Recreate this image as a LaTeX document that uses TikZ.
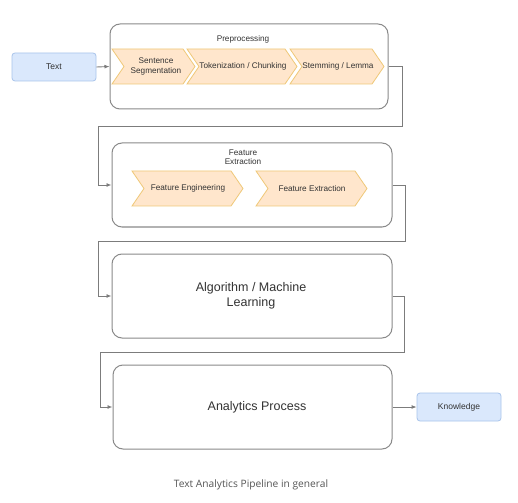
\documentclass[tikz,border=0pt]{standalone}
\usepackage{fontspec}
\setmainfont{Liberation Sans}
\newfontfamily\capfont{Open Sans}
\usetikzlibrary{arrows.meta,calc}
\definecolor{boxgray}{HTML}{8A8A8A}
\definecolor{chevfill}{HTML}{FFE6CC}
\definecolor{chevdraw}{HTML}{EFC878}
\definecolor{bluefill}{HTML}{DAE8FC}
\definecolor{bluedraw}{HTML}{A9C4EB}
\definecolor{txtgray}{HTML}{333333}
\definecolor{capgray}{HTML}{555555}
\tikzset{
  container/.style={draw=boxgray,line width=1pt,rounded corners=10pt,fill=white},
  endbox/.style={draw=bluedraw,line width=0.8pt,fill=bluefill,rounded corners=3pt,
    minimum width=84pt,minimum height=28pt,inner sep=0pt,font=\fontsize{8.5}{9.5}\selectfont,text=txtgray},
  chev/.style={draw=chevdraw,line width=0.8pt,fill=chevfill},
  chevtext/.style={font=\fontsize{8.2}{9.2}\selectfont,text=txtgray,align=center,inner sep=0pt},
  smalltitle/.style={font=\fontsize{8.2}{9.2}\selectfont,text=txtgray,align=center,inner sep=0pt},
  bigtext/.style={font=\fontsize{12.5}{15}\selectfont,text=txtgray,align=center,inner sep=0pt},
  conn/.style={draw=boxgray!90!black,line width=0.9pt,-{Latex[length=5pt,width=4pt]}},
}
\begin{document}
\begin{tikzpicture}[x=1pt,y=-1pt]
\useasboundingbox (0,0) rectangle (518,502);
\fill[white] (0,0) rectangle (518,502);
% containers
\node[container,minimum width=278pt,minimum height=85pt] (pre) at (249,66.5) {};
\node[container,minimum width=280pt,minimum height=84pt] (fe) at (252,185) {};
\node[container,minimum width=280pt,minimum height=84pt] (alg) at (252,296) {};
\node[container,minimum width=279pt,minimum height=84pt] (ana) at (252.5,407) {};
% end boxes
\node[endbox] (text) at (54,67) {Text};
\node[endbox] (know) at (459,407) {Knowledge};
% titles
\node[smalltitle] (pretitle) at (243,39) {Preprocessing};
\node[smalltitle] (fetitle) at (243,157.5) {Feature\\Extraction};
\node[bigtext] (algtext) at (251,296) {Algorithm / Machine\\Learning};
\node[bigtext] (anatext) at (257,407) {Analytics Process};
% chevrons (preprocessing)
\path[chev] (112,49) -- (183,49) -- (195,66.5) -- (183,84) -- (112,84) -- (124,66.5) -- cycle;
\path[chev] (187,49) -- (285,49) -- (297,66.5) -- (285,84) -- (187,84) -- (199,66.5) -- cycle;
\path[chev] (290,49) -- (372,49) -- (384,66.5) -- (372,84) -- (290,84) -- (302,66.5) -- cycle;
\node[chevtext] (c1) at (156,66.5) {Sentence\\Segmentation};
\node[chevtext] (c2) at (243,66.5) {Tokenization / Chunking};
\node[chevtext] (c3) at (338,66.5) {Stemming / Lemma};
% chevrons (feature extraction)
\path[chev] (132,171) -- (231,171) -- (243,188.5) -- (231,206) -- (132,206) -- (144,188.5) -- cycle;
\path[chev] (256,171) -- (355,171) -- (367,188.5) -- (355,206) -- (256,206) -- (268,188.5) -- cycle;
\node[chevtext] (f1) at (188,188.5) {Feature Engineering};
\node[chevtext] (f2) at (312,188.5) {Feature Extraction};
% connector waypoints
\coordinate (w1) at (402,126);
\coordinate (w2) at (98,126);
\coordinate (w3) at (405,241);
\coordinate (w4) at (98,241);
\coordinate (w5) at (404,352);
\coordinate (w6) at (100,352);
% connectors
\draw[conn] (text.east) -- (pre.west);
\draw[conn] (pre.east) -| (w1) -- (w2) |- (fe.west);
\draw[conn] (fe.east) -| (w3) -- (w4) |- (alg.west);
\draw[conn] (alg.east) -| (w5) -- (w6) |- (ana.west);
\draw[conn] (ana.east) -- (know.west);
% caption
\node[font=\capfont\fontsize{10.2}{12}\selectfont,text=capgray,inner sep=0pt] (caption) at (251,485) {Text Analytics Pipeline in general};
\end{tikzpicture}
\end{document}
